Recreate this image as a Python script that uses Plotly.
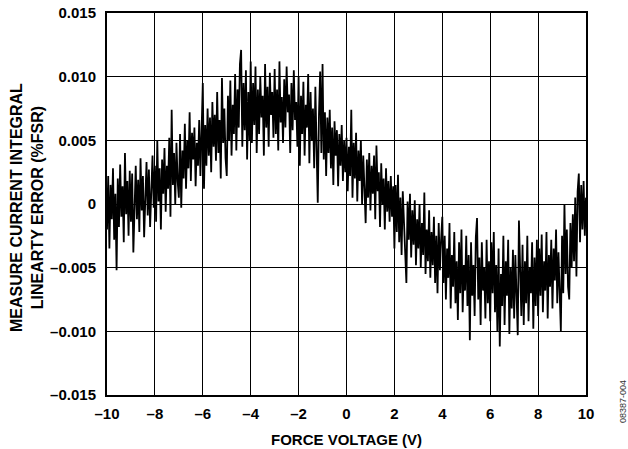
import plotly.graph_objects as go

# Force voltage sampling: start and step (V)
x_start = -10.0
x_step = 0.05

err_e4 = [
    # -10.00 .. -9.05
    -20, 22, -35, 15, -12, 28, -28, 8, -52, 20, -18, 31, -10, 14, -30, 40, -8, 18, -25, 26,
    # -9.00 .. -8.05
    -14, 24, -38, 10, 30, -12, 19, -22, 36, -5, 22, -26, 14, 33, -9, 27, -18, 8, 38, -3,
    # -8.00 .. -7.05
    30, -14, 50, 2, 28, -20, 35, 8, 44, -6, 30, 12, 52, -10, 74, 15, 40, 0, 48, 18,
    # -7.00 .. -6.05
    5, 55, -3, 42, 20, 63, 12, 50, 28, 72, 18, 56, 35, 60, 14, 48, 30, 66, 22, 58,
    # -6.00 .. -5.05
    95, 12, 62, 30, 75, 38, 68, 25, 80, 45, 70, 34, 88, 40, 66, 20, 99, 48, 75, 36,
    # -5.00 .. -4.05
    22, 85, 50, 97, 38, 78, 55, 102, 42, 90, 60, 110, 121, 45, 95, 58, 105, 35, 88, 50,
    # -4.00 .. -3.05
    112, 48, 95, 62, 108, 40, 90, 55, 100, 68, 85, 38, 110, 60, 92, 45, 103, 70, 88, 52,
    # -3.00 .. -2.05
    106, 55, 90, 42, 112, 64, 84, 48, 98, 60, 108, 72, 86, 40, 95, 58, 105, 66, 80, 45,
    # -2.00 .. -1.05
    100, 30, 85, 55, 96, 38, 78, 60, 102, 32, 88, 50, 75, 28, 92, 45, 1, 70, 104, 40,
    # -1.00 .. -0.05
    110, 35, 72, 22, 68, 40, 74, 28, 60, 15, 65, 38, 58, 14, 55, 30, 62, 18, 50, 25,
    # 0.00 .. 0.95
    52, 10, 45, 22, 74, 5, 48, 20, 56, 2, 42, 18, 50, 0, 38, 12, -15, 35, 5, 40,
    # 1.00 .. 1.95
    -5, 30, 8, 38, -12, 46, 10, 25, -18, 32, 0, 20, -20, 28, -6, 18, -14, 22, -10, 14,
    # 2.00 .. 2.95
    -35, 15, -22, 23, -30, 5, -40, 10, -18, -45, -62, 2, -28, 8, -42, -5, -32, 3, -48, -12,
    # 3.00 .. 3.95
    -35, 0, -50, -15, -40, 9, -55, -20, -45, -5, -58, -22, -48, -10, -62, -25, -70, -15, -52, -28,
    # 4.00 .. 4.95
    -10, -62, -25, -75, -35, -58, -15, -82, -40, -65, -22, -78, -45, -91, -30, -70, -20, -85, -48, -68,
    # 5.00 .. 5.95
    -25, -80, -40, -107, -30, -72, -48, -88, -26, -11, -75, -42, -95, -30, -68, -50, -90, -28, -78, -45,
    # 6.00 .. 6.95
    -92, -30, -70, -22, -85, -48, -100, -35, -112, -55, -80, -25, -95, -45, -72, -28, -102, -50, -82, -36,
    # 7.00 .. 7.95
    -90, -40, -75, -103, -13, -60, -88, -32, -95, -45, -78, -25, -92, -50, -70, -30, -98, -42, -80, -28,
    # 8.00 .. 8.95
    -88, -35, -72, -24, -85, -45, -68, -22, -90, -40, -65, -28, -82, -35, -60, -20, -78, -38, -62, -100,
    # 9.00 .. 10.00
    -25, -70, 0, -55, -20, -65, -75, -15, -50, -8, -45, 5, -57, 10, 24, -30, 15, -20, 18, -25, 5,
]

x_ticks = [-10, -8, -6, -4, -2, 0, 2, 4, 6, 8, 10]
x_ticktext = ["\u201310", "\u20138", "\u20136", "\u20134", "\u20132", "0", "2", "4", "6", "8", "10"]
y_ticks = [-0.015, -0.010, -0.005, 0, 0.005, 0.010, 0.015]
y_ticktext = ["\u20130.015", "\u20130.010", "\u20130.005", "0", "0.005", "0.010", "0.015"]

x_vals = [x_start + i * x_step for i in range(len(err_e4))]
y_vals = [v * 1e-4 for v in err_e4]

FONT = "Arial, 'Liberation Sans', sans-serif"

fig = go.Figure()
fig.add_trace(go.Scatter(
    x=x_vals, y=y_vals, mode="lines",
    line=dict(color="black", width=1.8),
    showlegend=False, hoverinfo="skip",
))

axis_common = dict(
    showline=True, linecolor="black", linewidth=2, mirror=True,
    showgrid=True, gridcolor="black", gridwidth=1,
    zeroline=True, zerolinecolor="black", zerolinewidth=1,
    ticks="", tickfont=dict(family=FONT, size=15, color="black", weight="bold"),
)

fig.update_layout(
    width=628, height=449,
    margin=dict(l=107, r=42, t=13, b=54, autoexpand=False),
    paper_bgcolor="white", plot_bgcolor="white",
    font=dict(family=FONT, color="black"),
    xaxis=dict(range=[-10, 10], tickvals=x_ticks, ticktext=x_ticktext,
               ticklabelstandoff=4, automargin=False, **axis_common),
    yaxis=dict(range=[-0.015, 0.015], tickvals=y_ticks, ticktext=y_ticktext,
               ticklabelstandoff=6, automargin=False, **axis_common),
    annotations=[
        dict(text="FORCE VOLTAGE (V)", xref="paper", yref="paper", x=0.5, y=0,
             yshift=-44, xanchor="center", yanchor="middle", showarrow=False,
             font=dict(family=FONT, size=15, color="black", weight="bold")),
        dict(text="MEASURE CURRENT INTEGRAL<br>LINEARTY ERROR (%FSR)",
             xref="paper", yref="paper", x=0, y=0.5, xshift=-80, yshift=-4,
             xanchor="center", yanchor="middle", textangle=-90, showarrow=False,
             font=dict(family=FONT, size=16, color="black", weight="bold")),
        dict(text="08387-004", xref="paper", yref="paper", x=1, y=0,
             xshift=37, yshift=-7, xanchor="center", yanchor="middle",
             textangle=-90, showarrow=False,
             font=dict(family=FONT, size=9, color="#333333")),
    ],
)

fig.write_html(
    "out.html",
    config={"displayModeBar": False},
    post_script="document.body.style.margin='0';document.body.style.overflow='hidden';",
)
